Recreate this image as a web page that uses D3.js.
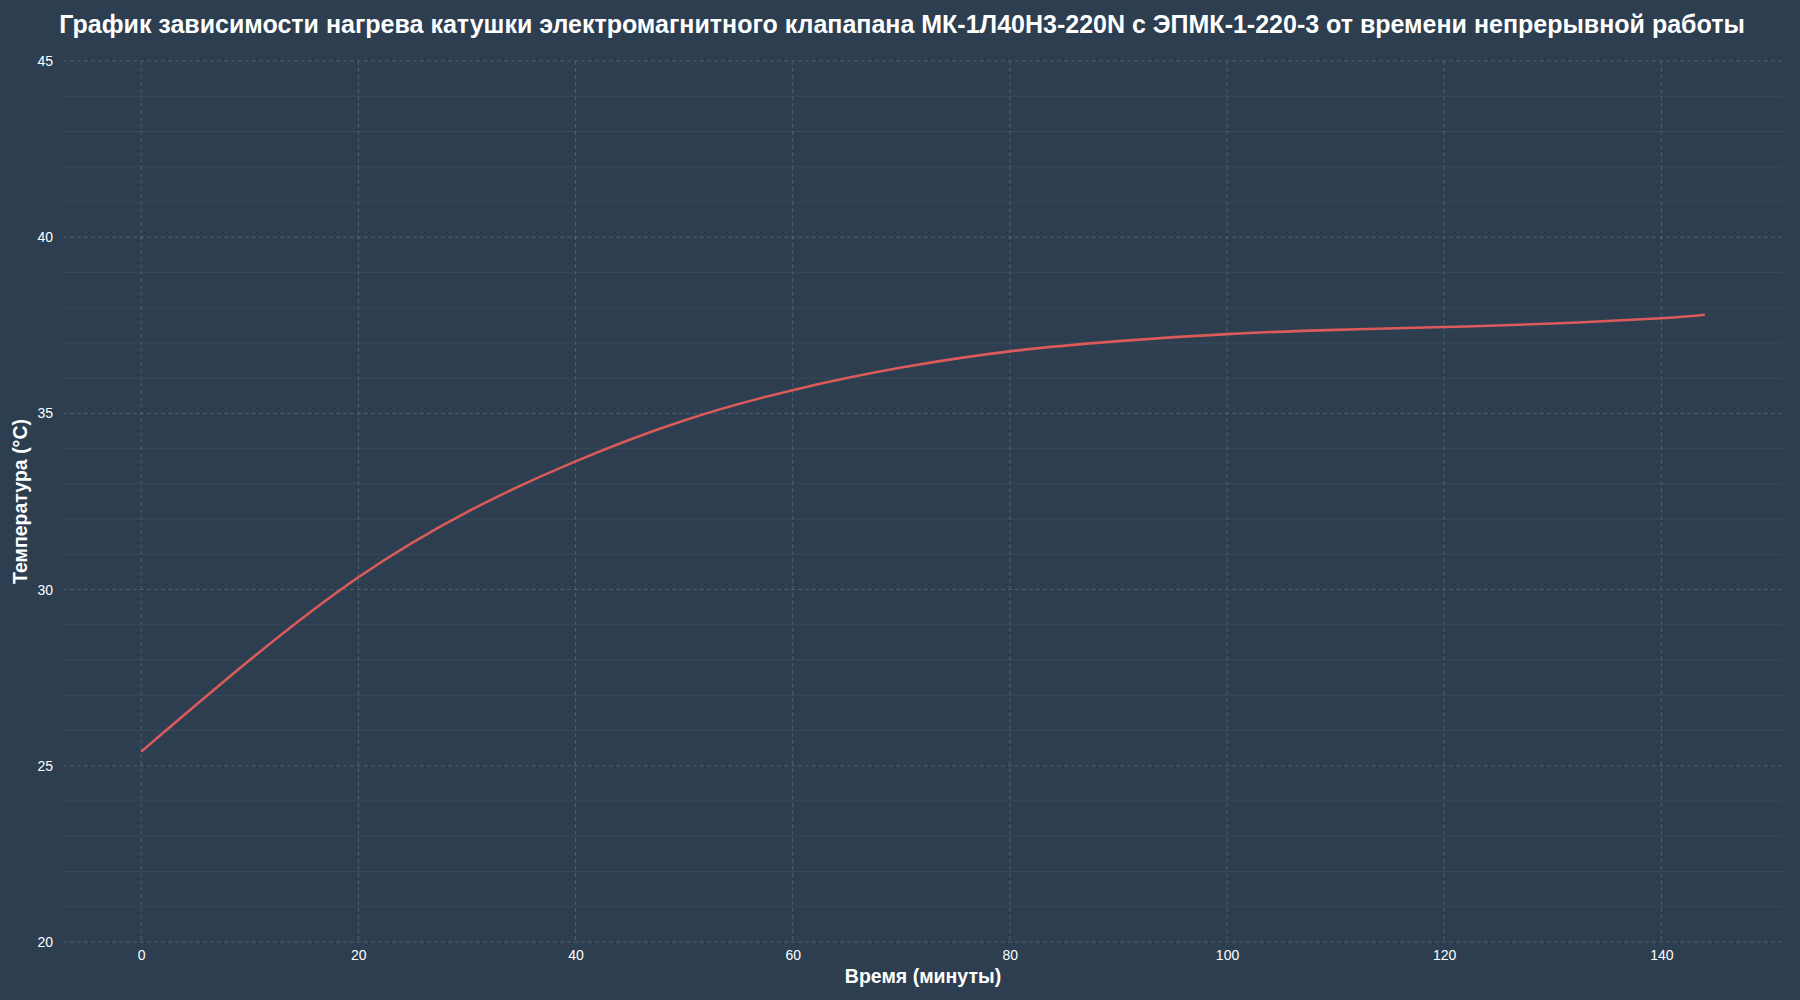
<!DOCTYPE html>
<html>
<head>
<meta charset="utf-8">
<script src="https://cdn.jsdelivr.net/npm/d3@7"></script>
<style>
  body { margin: 0; background: #2c3e50; }
  svg { display: block; font-family: 'Liberation Sans', Arial, sans-serif; }
</style>
</head>
<body>
<div id="chart"></div>
<script>
const title = 'График зависимости нагрева катушки электромагнитного клапапана МК-1Л40Н3-220N с ЭПМК-1-220-3 от времени непрерывной работы'
const minutes = [0, 10, 20, 30, 40, 50, 60, 70, 80, 90, 100, 110, 120, 130, 140, 144]
const temps = [25.4, 28.0, 30.35, 32.2, 33.64, 34.8, 35.66, 36.3, 36.76, 37.05, 37.25, 37.37, 37.45, 37.55, 37.7, 37.8]
const xTicks = [0, 20, 40, 60, 80, 100, 120, 140]
const yTicks = [20, 25, 30, 35, 40, 45]

const dimensions = {
  width: 1800,
  height: 1000,
  margin: { top: 61, right: 17, bottom: 58, left: 63 }
}
const innerW = dimensions.width - dimensions.margin.left - dimensions.margin.right
const innerH = dimensions.height - dimensions.margin.top - dimensions.margin.bottom

const svg = d3.select('#chart').append('svg')
  .attr('width', dimensions.width)
  .attr('height', dimensions.height)

svg.append('rect').attr('width', dimensions.width).attr('height', dimensions.height).attr('fill', '#2c3e50')

const bounds = svg.append('g')
  .attr('transform', `translate(${dimensions.margin.left}, ${dimensions.margin.top})`)

const xScale = d3.scaleLinear().domain([-7.2, 151.2]).range([0, innerW])
const yScale = d3.scaleLinear().domain([20, 45]).range([innerH, 0])

// minor horizontal grid
bounds.append('g').selectAll('line')
  .data(d3.range(20, 46, 1).filter(v => v % 5 !== 0))
  .join('line')
  .attr('x1', 0).attr('x2', innerW)
  .attr('y1', d => yScale(d)).attr('y2', d => yScale(d))
  .attr('stroke', '#4a5a6a').attr('stroke-width', 0.6).attr('opacity', 0.7)

// major grid
bounds.append('g').selectAll('line')
  .data(yTicks)
  .join('line')
  .attr('x1', 0).attr('x2', innerW)
  .attr('y1', d => yScale(d)).attr('y2', d => yScale(d))
  .attr('stroke', '#6c7a88').attr('stroke-width', 0.8).attr('stroke-dasharray', '4,3').attr('opacity', 0.7)
bounds.append('g').selectAll('line')
  .data(xTicks)
  .join('line')
  .attr('y1', 0).attr('y2', innerH)
  .attr('x1', d => xScale(d)).attr('x2', d => xScale(d))
  .attr('stroke', '#6c7a88').attr('stroke-width', 0.8).attr('stroke-dasharray', '4,3').attr('opacity', 0.7)

const xAxis = bounds.append('g')
  .attr('transform', `translate(0, ${innerH})`)
  .call(d3.axisBottom(xScale).tickValues(xTicks).tickSize(0).tickPadding(8))
const yAxis = bounds.append('g')
  .call(d3.axisLeft(yScale).tickValues(yTicks).tickSize(0).tickPadding(10))
;[xAxis, yAxis].forEach(a => {
  a.select('.domain').remove()
  a.selectAll('.tick text').attr('fill', '#ffffff').style('font-size', '14px')
    .style('font-family', "'Liberation Sans', Arial, sans-serif")
})

const line = d3.line()
  .x((d, i) => xScale(minutes[i]))
  .y(d => yScale(d))
  .curve(d3.curveNatural)

bounds.append('path')
  .datum(temps)
  .attr('d', line)
  .attr('fill', 'none')
  .attr('stroke', '#dc5a5a')
  .attr('stroke-width', 2.6)

svg.append('text')
  .attr('x', 902).attr('y', 33)
  .attr('text-anchor', 'middle')
  .attr('fill', '#ffffff').style('font-size', '25px').style('font-weight', 'bold')
  .text(title)

svg.append('text')
  .attr('x', dimensions.margin.left + innerW / 2).attr('y', 983)
  .attr('text-anchor', 'middle')
  .attr('fill', '#ffffff').style('font-size', '19.5px').style('font-weight', 'bold')
  .text('Время (минуты)')

svg.append('text')
  .attr('transform', `translate(27, ${dimensions.margin.top + innerH / 2}) rotate(-90)`)
  .attr('text-anchor', 'middle')
  .attr('fill', '#ffffff').style('font-size', '19.5px').style('font-weight', 'bold')
  .text('Температура (°C)')
</script>
</body>
</html>
